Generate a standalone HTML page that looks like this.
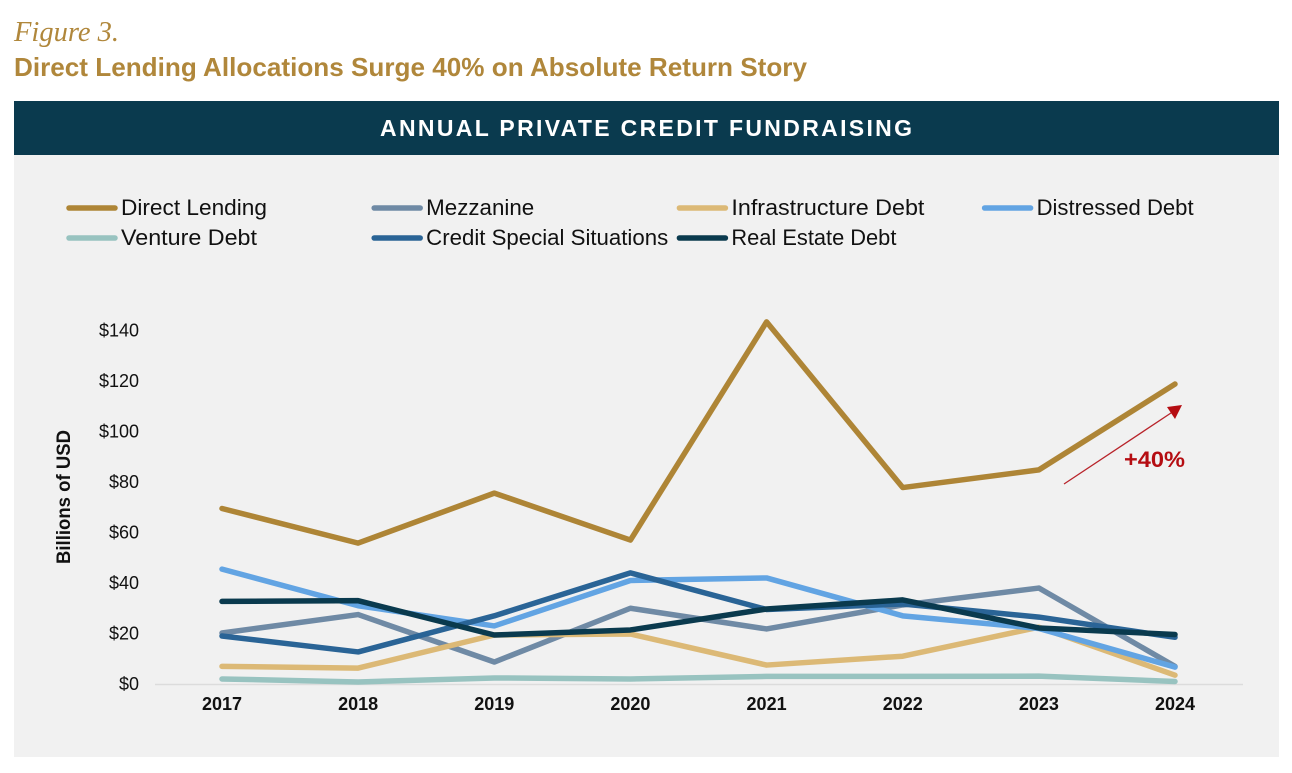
<!DOCTYPE html>
<html lang="en">
<head>
<meta charset="utf-8">
<title>Direct Lending Allocations Surge 40% on Absolute Return Story</title>
<style>
html,body{margin:0;padding:0;background:#fff;width:1292px;height:773px;overflow:hidden}
svg{display:block}
text{font-family:"Liberation Sans",sans-serif}
</style>
</head>
<body>
<svg id="chart" width="1292" height="773" viewBox="0 0 1292 773" xmlns="http://www.w3.org/2000/svg">
  <rect width="1292" height="773" fill="#ffffff"/>
  <text x="14" y="41" font-size="28" font-style="italic" fill="#b0873b" textLength="105" lengthAdjust="spacingAndGlyphs" style="font-family:'Liberation Serif',serif">Figure 3.</text>
  <text x="14" y="76" font-size="26" font-weight="bold" fill="#b0873b" textLength="793" lengthAdjust="spacingAndGlyphs">Direct Lending Allocations Surge 40% on Absolute Return Story</text>
  <rect x="14" y="155" width="1265" height="602" fill="#f1f1f1"/>
  <rect x="14" y="101" width="1265" height="54" fill="#0a3a4e"/>
  <text x="380" y="136" font-size="23" font-weight="bold" fill="#ffffff" textLength="532" lengthAdjust="spacing">ANNUAL PRIVATE CREDIT FUNDRAISING</text>
  <g id="legend"></g>
  <text transform="translate(70,497) rotate(-90)" text-anchor="middle" font-size="19" font-weight="bold" fill="#111111" textLength="134" lengthAdjust="spacingAndGlyphs">Billions of USD</text>
  <g id="y-ticks"></g>
  <line x1="155" y1="684.5" x2="1243" y2="684.5" stroke="#dcdcdc" stroke-width="1.5"/>
  <g id="x-ticks"></g>
  <g id="series"></g>
  <g>
    <line x1="1064" y1="484" x2="1174" y2="411" stroke="#b8232a" stroke-width="1.3"/>
    <polygon points="1182,405 1175,419 1167,407" fill="#b50d12"/>
    <text x="1124" y="467" font-size="22" font-weight="bold" fill="#b50d12" textLength="61" lengthAdjust="spacingAndGlyphs">+40%</text>
  </g>
</svg>
<script>
const categories = ['2017', '2018', '2019', '2020', '2021', '2022', '2023', '2024'];
const yTickValues = [0, 20, 40, 60, 80, 100, 120, 140];
const directLending = [69.5, 55.8, 75.6, 57, 143.4, 77.8, 84.8, 118.8];
const mezzanine = [20.2, 27.5, 8.7, 30, 21.8, 31.3, 38, 7];
const infrastructureDebt = [7, 6.3, 19.4, 19.8, 7.5, 11, 22.5, 3.5];
const distressedDebt = [45.5, 31, 23, 41, 42, 27, 22, 6.7];
const ventureDebt = [2, 0.8, 2.4, 2, 3, 3, 3.1, 1];
const creditSpecialSituations = [19, 12.7, 27, 44, 29.5, 31.7, 26.5, 18.5];
const realEstateDebt = [32.7, 33, 19.4, 21.4, 29.7, 33.3, 22.2, 19.6];
const seriesNames = ['Direct Lending', 'Mezzanine', 'Infrastructure Debt', 'Distressed Debt', 'Venture Debt', 'Credit Special Situations', 'Real Estate Debt'];
const seriesValues = [directLending, mezzanine, infrastructureDebt, distressedDebt, ventureDebt, creditSpecialSituations, realEstateDebt];
const seriesColors = ['#ae8536', '#6f8aa5', '#dcb976', '#62a4e3', '#98c3c0', '#2a6496', '#0a3a4e'];

const NS = 'http://www.w3.org/2000/svg';
const legendTextFit = { 'Direct Lending': 146, 'Mezzanine': 108, 'Infrastructure Debt': 193, 'Distressed Debt': 157, 'Venture Debt': 136, 'Credit Special Situations': 242, 'Real Estate Debt': 165 };
function xScale(i) { return 222 + i * (1175 - 222) / (categories.length - 1); }
function yScale(v) { return 684 - v * 2.525; }
function slug(s) { return s.toLowerCase().replace(/\s+/g, '-'); }

const yGroup = document.getElementById('y-ticks');
yTickValues.forEach(function (v) {
  const t = document.createElementNS(NS, 'text');
  
  
  t.setAttribute('x', 139);
  t.setAttribute('y', yScale(v) + 6);
  t.setAttribute('text-anchor', 'end');
  t.setAttribute('font-size', '18');
  t.setAttribute('fill', '#111111');
  t.textContent = '$' + v;
  yGroup.appendChild(t);
});

const xGroup = document.getElementById('x-ticks');
categories.forEach(function (c, i) {
  const t = document.createElementNS(NS, 'text');
  
  
  t.setAttribute('x', xScale(i));
  t.setAttribute('y', 710);
  t.setAttribute('text-anchor', 'middle');
  t.setAttribute('font-size', '18');
  t.setAttribute('font-weight', 'bold');
  t.setAttribute('fill', '#111111');
  t.textContent = c;
  xGroup.appendChild(t);
});

const lineGroup = document.getElementById('series');
seriesValues.forEach(function (vals, s) {
  const p = document.createElementNS(NS, 'polyline');
  
  
  p.setAttribute('points', vals.map(function (v, i) { return xScale(i) + ',' + yScale(v); }).join(' '));
  p.setAttribute('fill', 'none');
  p.setAttribute('stroke', seriesColors[s]);
  p.setAttribute('stroke-width', '5.5');
  p.setAttribute('stroke-linecap', 'round');
  p.setAttribute('stroke-linejoin', 'round');
  lineGroup.appendChild(p);
});

const legendGroup = document.getElementById('legend');
const legendColumns = 4;
seriesNames.forEach(function (name, s) {
  const col = s % legendColumns;
  const row = Math.floor(s / legendColumns);
  const baseX = 69 + col * 305.2;
  const baseY = 208 + row * 30;
  const l = document.createElementNS(NS, 'line');
  
  
  l.setAttribute('x1', baseX);
  l.setAttribute('y1', baseY);
  l.setAttribute('x2', baseX + 46);
  l.setAttribute('y2', baseY);
  l.setAttribute('stroke', seriesColors[s]);
  l.setAttribute('stroke-width', '5.5');
  l.setAttribute('stroke-linecap', 'round');
  legendGroup.appendChild(l);
  const t = document.createElementNS(NS, 'text');
  
  
  t.setAttribute('x', baseX + 52);
  t.setAttribute('y', baseY + 7);
  t.setAttribute('font-size', '22');
  t.setAttribute('fill', '#111111');
  t.setAttribute('textLength', legendTextFit[name]);
  t.setAttribute('lengthAdjust', 'spacingAndGlyphs');
  t.textContent = name;
  legendGroup.appendChild(t);
});
</script>
</body>
</html>
